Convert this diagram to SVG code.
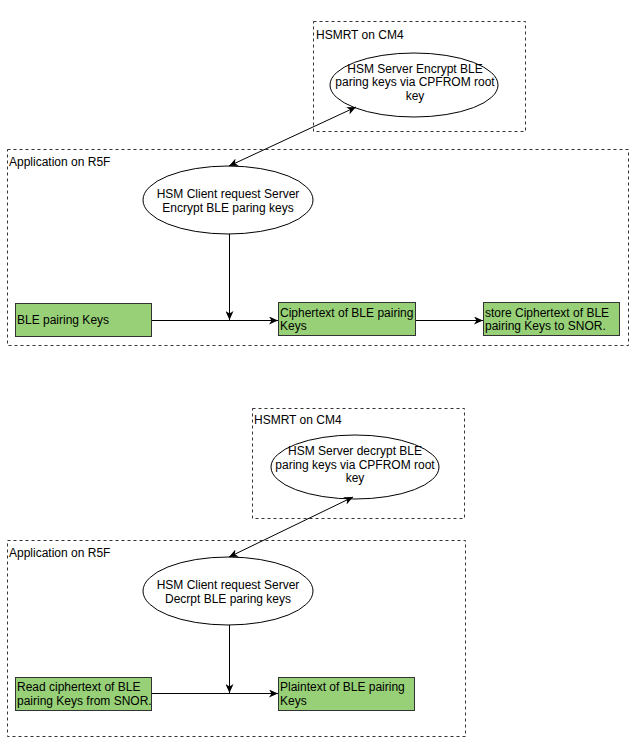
<svg xmlns="http://www.w3.org/2000/svg" width="635" height="747" viewBox="0 0 635 747">
<style>
text{font-family:"Liberation Sans",Arial,sans-serif;font-size:12px;fill:#000}
.c{text-anchor:middle}
.grp{fill:none;stroke:#333;stroke-width:1;stroke-dasharray:3 3}
.ell{fill:#fff;stroke:#000;stroke-width:1}
.box{fill:#97D077;stroke:#333;stroke-width:1}
.ln{fill:none;stroke:#000;stroke-width:1}
</style>
<defs>
<marker id="ar" viewBox="0 0 10 8" refX="9" refY="4" markerWidth="10" markerHeight="8" markerUnits="userSpaceOnUse" orient="auto-start-reverse">
<path d="M0,0 L9,4 L0,8 L2.5,4 z" fill="#000"/>
</marker>
</defs>
<rect width="635" height="747" fill="#fff"/>

<g id="top-hsmrt">
<rect class="grp" x="313.5" y="21.5" width="212" height="110"/>
<text x="316" y="39">HSMRT on CM4</text>
</g>
<g id="top-server">
<ellipse class="ell" cx="414" cy="85" rx="84" ry="32"/>
<text class="c" x="415" y="73">HSM Server Encrypt BLE</text>
<text class="c" x="415" y="86">paring keys via CPFROM root</text>
<text class="c" x="415" y="100">key</text>
</g>
<g id="top-app">
<rect class="grp" x="7.5" y="149.5" width="621" height="196"/>
<text x="9" y="166">Application on R5F</text>
</g>
<g id="top-client">
<ellipse class="ell" cx="228" cy="200" rx="85" ry="34"/>
<text class="c" x="228" y="198">HSM Client request Server</text>
<text class="c" x="228" y="212">Encrypt BLE paring keys</text>
</g>
<g id="top-keys">
<rect class="box" x="15.5" y="303.5" width="136" height="33"/>
<text x="17" y="324">BLE pairing Keys</text>
</g>
<g id="top-cipher">
<rect class="box" x="278.5" y="302.5" width="137" height="33"/>
<text x="280" y="317">Ciphertext of BLE pairing</text>
<text x="280" y="330">Keys</text>
</g>
<g id="top-store">
<rect class="box" x="483.5" y="302.5" width="136" height="33"/>
<text x="485" y="317">store Ciphertext of BLE</text>
<text x="485" y="330">pairing Keys to SNOR.</text>
</g>

<g id="bot-hsmrt">
<rect class="grp" x="252.5" y="408.5" width="212" height="110"/>
<text x="254" y="424">HSMRT on CM4</text>
</g>
<g id="bot-server">
<ellipse class="ell" cx="355" cy="467" rx="84" ry="32"/>
<text class="c" x="355" y="455">HSM Server decrypt BLE</text>
<text class="c" x="355" y="469">paring keys via CPFROM root</text>
<text class="c" x="355" y="482">key</text>
</g>
<g id="bot-app">
<rect class="grp" x="7.5" y="540.5" width="458" height="196"/>
<text x="9" y="557">Application on R5F</text>
</g>
<g id="bot-client">
<ellipse class="ell" cx="228" cy="591" rx="85" ry="34"/>
<text class="c" x="228" y="589">HSM Client request Server</text>
<text class="c" x="228" y="603">Decrpt BLE paring keys</text>
</g>
<g id="bot-read">
<rect class="box" x="15.5" y="677.5" width="136" height="33"/>
<text x="17" y="691">Read ciphertext of BLE</text>
<text x="17" y="705">pairing Keys from SNOR.</text>
</g>
<g id="bot-plain">
<rect class="box" x="278.5" y="677.5" width="136" height="33"/>
<text x="280" y="691">Plaintext of BLE pairing</text>
<text x="280" y="705">Keys</text>
</g>

<g id="connectors">
<line class="ln" x1="229" y1="166" x2="356" y2="107" marker-start="url(#ar)" marker-end="url(#ar)"/>
<line class="ln" x1="229.5" y1="234" x2="229.5" y2="320" marker-end="url(#ar)"/>
<line class="ln" x1="152" y1="320.5" x2="278" y2="320.5" marker-end="url(#ar)"/>
<line class="ln" x1="416" y1="320.5" x2="483" y2="320.5" marker-end="url(#ar)"/>
<line class="ln" x1="229" y1="557" x2="353" y2="497" marker-start="url(#ar)" marker-end="url(#ar)"/>
<line class="ln" x1="229.5" y1="625" x2="229.5" y2="693" marker-end="url(#ar)"/>
<line class="ln" x1="152" y1="693.5" x2="278" y2="693.5" marker-end="url(#ar)"/>
</g>
</svg>
